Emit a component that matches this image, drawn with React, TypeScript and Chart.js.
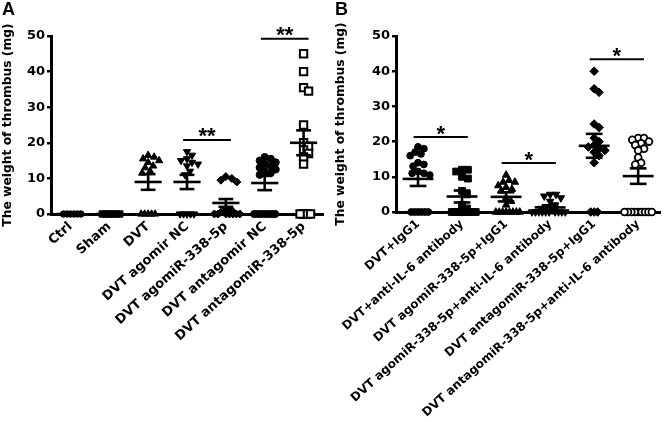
import React, { useEffect, useRef } from 'react';
import { Chart, registerables } from 'chart.js';
Chart.register(...registerables);

const FONT = "'DejaVu Sans', sans-serif";
const STAR_FONT = "bold 22px 'Liberation Sans', Arial, sans-serif";

// ---------- Panel A data ----------
const categoriesA = [
  'Ctrl',
  'Sham',
  'DVT',
  'DVT agomir NC',
  'DVT agomiR-338-5p',
  'DVT antagomir NC',
  'DVT antagomiR-338-5p',
];
const ctrlA = [0, 0, 0, 0, 0, 0];
const shamA = [0, 0, 0, 0, 0, 0];
const dvtA = [16.5, 16, 15.5, 15, 14.5, 13.5, 13, 12, 11.5, 0, 0, 0, 0, 0];
const agomirNcA = [17.5, 16.5, 15.5, 15, 14.5, 14, 13.5, 12, 11, 0, 0, 0, 0, 0];
const agomiRA = [10.5, 10, 9.5, 9, 1.5, 1, 0.5, 0, 0, 0, 0, 0, 0, 0];
const antagomirNcA = [16, 15.5, 15, 14.5, 14, 13.5, 13, 12.5, 12, 11.5, 11, 0, 0, 0, 0, 0, 0, 0];
const antagomiRA = [45, 40, 35.5, 34.5, 25, 20, 19, 18, 17, 16, 14, 0, 0, 0, 0];
const meansA = [0, 0, 9.0, 9.0, 3.1, 8.7, 20.0];
const semsA = [0, 0, 2.2, 2.0, 1.1, 2.0, 3.5];
const sigFromA = [3, 5];
const sigToA = [4, 6];
const sigYA = [20.8, 49.2];
const sigLabelA = ['**', '**'];

// ---------- Panel B data ----------
const categoriesB = [
  'DVT+IgG1',
  'DVT+anti-IL-6 antibody',
  'DVT agomiR-338-5p+IgG1',
  'DVT agomiR-338-5p+anti-IL-6 antibody',
  'DVT antagomiR-338-5p+IgG1',
  'DVT antagomiR-338-5p+anti-IL-6 antibody',
];
const igg1B = [18.5, 18, 17, 16.5, 16, 14, 13.5, 13, 11.5, 11, 11, 10.5, 0, 0, 0, 0, 0, 0];
const antiIl6B = [12, 12, 11.5, 10, 9.5, 6, 5, 2, 1, 0, 0, 0, 0, 0, 0, 0, 0];
const agomiRIgg1B = [10.5, 9, 8.5, 8.5, 7.5, 7, 6.5, 6, 4, 3, 2, 0, 0, 0, 0, 0, 0, 0, 0];
const agomiRIl6B = [5, 5, 4.5, 4, 3, 2, 1.5, 1, 0.5, 0, 0, 0, 0, 0, 0, 0, 0, 0, 0];
const antagomiRIgg1B = [40, 35, 34, 25, 24, 21, 20, 19, 18.5, 18, 17.5, 17, 16, 14, 0, 0, 0];
const antagomiRIl6B = [21, 21, 20.5, 20, 19.5, 19, 18, 17.5, 15.5, 14, 13.5, 0, 0, 0, 0, 0, 0, 0, 0, 0];
const meansB = [9.4, 4.4, 4.3, 1.3, 18.8, 10.2];
const semsB = [2.0, 1.7, 1.3, 0.6, 3.4, 2.2];
const sigFromB = [0, 2, 4];
const sigToB = [1, 3, 5];
const sigYB = [21.3, 13.9, 43.4];
const sigLabelB = ['*', '*', '*'];

const yTicks = [0, 10, 20, 30, 40, 50];

type Style = { shape: string; rot: number; r: number; fill: string; bw: number };
const stylesA: Style[] = [
  { shape: 'circle', rot: 0, r: 3.2, fill: '#000', bw: 1 },
  { shape: 'rect', rot: 0, r: 4.5, fill: '#000', bw: 1 },
  { shape: 'triangle', rot: 0, r: 4.2, fill: '#000', bw: 1 },
  { shape: 'triangle', rot: 180, r: 4.2, fill: '#000', bw: 1 },
  { shape: 'rectRot', rot: 0, r: 4, fill: '#000', bw: 1 },
  { shape: 'circle', rot: 0, r: 3.6, fill: '#000', bw: 1 },
  { shape: 'rect', rot: 0, r: 5.2, fill: '#fff', bw: 2 },
];
const stylesB: Style[] = [
  { shape: 'circle', rot: 0, r: 3.4, fill: '#000', bw: 1 },
  { shape: 'rect', rot: 0, r: 4.8, fill: '#000', bw: 1 },
  { shape: 'triangle', rot: 0, r: 4.3, fill: '#000', bw: 1 },
  { shape: 'triangle', rot: 180, r: 4.3, fill: '#000', bw: 1 },
  { shape: 'rectRot', rot: 0, r: 4.3, fill: '#000', bw: 1 },
  { shape: 'circle', rot: 0, r: 3.4, fill: '#fff', bw: 1.8 },
];

// deterministic beeswarm layout (pixel-space approximation)
function swarmOffsets(values: number[], pxX: number, pxY: number): number[] {
  const order = values.map((_, i) => i).sort((a, b) => values[b] - values[a]);
  const placed: [number, number][] = [];
  const out = new Array(values.length).fill(0);
  for (const i of order) {
    const py = values[i] * pxY;
    const minDist = values[i] === 0 ? 3.3 : 6;
    let chosen = 0;
    for (let k = 0; k < 400; k++) {
      const cand = k === 0 ? 0 : (k % 2 ? 1 : -1) * Math.ceil(k / 2) * 0.5;
      if (placed.every(([x, y]) => (x - cand) ** 2 + (y - py) ** 2 >= minDist * minDist)) {
        chosen = cand;
        break;
      }
    }
    placed.push([chosen, py]);
    out[i] = chosen / pxX;
  }
  return out;
}

type PanelSpec = {
  letter: string;
  categories: string[];
  groups: number[][];
  styles: Style[];
  means: number[];
  sems: number[];
  sigFrom: number[];
  sigTo: number[];
  sigY: number[];
  sigLabel: string[];
  yWidth: number;
  xHeight: number;
  padRight: number;
  pxX: number;
  pxY: number;
  labelSize: number;
};

function buildConfig(p: PanelSpec): any {
  const datasets = p.groups.map((vals, gi) => {
    const offs = swarmOffsets(vals, p.pxX, p.pxY);
    const st = p.styles[gi];
    return {
      label: p.categories[gi],
      data: vals.map((v, j) => ({ x: gi + offs[j], y: v })),
      pointStyle: st.shape,
      rotation: st.rot,
      pointRadius: st.r,
      pointBackgroundColor: st.fill,
      pointBorderColor: '#000',
      pointBorderWidth: st.bw,
      clip: false,
    };
  });

  const overlay = {
    id: 'overlay' + p.letter,
    afterDatasetsDraw(chart: any) {
      const { ctx } = chart;
      const x = chart.scales.x;
      const y = chart.scales.y;
      ctx.save();
      ctx.strokeStyle = '#000';
      ctx.fillStyle = '#000';
      ctx.lineCap = 'butt';
      const hline = (a: number, b: number, v: number, w: number) => {
        ctx.lineWidth = w;
        ctx.beginPath();
        ctx.moveTo(x.getPixelForValue(a), y.getPixelForValue(v));
        ctx.lineTo(x.getPixelForValue(b), y.getPixelForValue(v));
        ctx.stroke();
      };
      p.means.forEach((m, i) => {
        const s = p.sems[i];
        hline(i - 0.35, i + 0.35, m, 2.6);
        if (s > 0) {
          ctx.lineWidth = 2.6;
          ctx.beginPath();
          ctx.moveTo(x.getPixelForValue(i), y.getPixelForValue(m - s));
          ctx.lineTo(x.getPixelForValue(i), y.getPixelForValue(m + s));
          ctx.stroke();
          hline(i - 0.19, i + 0.19, m - s, 2.6);
          hline(i - 0.19, i + 0.19, m + s, 2.6);
        }
      });
      p.sigFrom.forEach((f, k) => {
        const t = p.sigTo[k];
        hline(f - 0.1, t + 0.13, p.sigY[k], 2);
        ctx.font = STAR_FONT;
        ctx.textAlign = 'center';
        ctx.textBaseline = 'alphabetic';
        const cx = (x.getPixelForValue(f - 0.1) + x.getPixelForValue(t + 0.13)) / 2;
        ctx.fillText(p.sigLabel[k], cx, y.getPixelForValue(p.sigY[k]) + 3.5);
      });
      ctx.font = "bold 18px 'Liberation Sans', Arial, sans-serif";
      ctx.textAlign = 'left';
      ctx.textBaseline = 'top';
      ctx.fillText(p.letter, 2, 1);
      ctx.restore();
    },
  };

  return {
    type: 'scatter',
    data: { datasets },
    plugins: [overlay],
    options: {
      animation: false,
      responsive: false,
      events: [],
      layout: { padding: { top: 36, right: p.padRight, left: 0, bottom: 0 } },
      plugins: { legend: { display: false }, tooltip: { enabled: false } },
      scales: {
        x: {
          type: 'linear',
          min: -0.5,
          max: p.categories.length - 0.5,
          afterBuildTicks: (scale: any) => {
            scale.ticks = p.categories.map((_, i) => ({ value: i }));
          },
          afterFit: (scale: any) => {
            scale.height = p.xHeight;
          },
          grid: { display: false, drawTicks: false },
          border: { display: true, color: '#000', width: 3 },
          ticks: {
            autoSkip: false,
            minRotation: 42,
            maxRotation: 42,
            padding: 5,
            color: '#000',
            font: { family: FONT, size: p.labelSize, weight: 'bold' },
            callback: (_v: any, i: number) => p.categories[i],
          },
        },
        y: {
          type: 'linear',
          min: 0,
          max: 50,
          afterBuildTicks: (scale: any) => {
            scale.ticks = yTicks.map((v) => ({ value: v }));
          },
          afterFit: (scale: any) => {
            scale.width = p.yWidth;
          },
          grid: {
            display: true,
            drawOnChartArea: false,
            drawTicks: true,
            tickLength: 4,
            color: '#000',
            lineWidth: 2.5,
          },
          border: { display: true, color: '#000', width: 3 },
          ticks: {
            padding: 2,
            color: '#000',
            font: { family: FONT, size: 13, weight: 'bold' },
          },
          title: {
            display: true,
            text: 'The weight of thrombus (mg)',
            color: '#000',
            padding: { top: 0, bottom: 0 },
            font: { family: FONT, size: 12.3, weight: 'bold' },
          },
        },
      },
    },
  };
}

const panelA: PanelSpec = {
  letter: 'A',
  categories: categoriesA,
  groups: [ctrlA, shamA, dvtA, agomirNcA, agomiRA, antagomirNcA, antagomiRA],
  styles: stylesA,
  means: meansA,
  sems: semsA,
  sigFrom: sigFromA,
  sigTo: sigToA,
  sigY: sigYA,
  sigLabel: sigLabelA,
  yWidth: 51,
  xHeight: 208,
  padRight: 10,
  pxX: 38.9,
  pxY: 3.56,
  labelSize: 13,
};

const panelB: PanelSpec = {
  letter: 'B',
  categories: categoriesB,
  groups: [igg1B, antiIl6B, agomiRIgg1B, agomiRIl6B, antagomiRIgg1B, antagomiRIl6B],
  styles: stylesB,
  means: meansB,
  sems: semsB,
  sigFrom: sigFromB,
  sigTo: sigToB,
  sigY: sigYB,
  sigLabel: sigLabelB,
  yWidth: 63,
  xHeight: 210,
  padRight: 1,
  pxX: 45,
  pxY: 3.52,
  labelSize: 12,
};

function Panel({ spec, left }: { spec: PanelSpec; left: number }) {
  const ref = useRef<HTMLCanvasElement>(null);
  useEffect(() => {
    const chart = new Chart(ref.current as HTMLCanvasElement, buildConfig(spec));
    return () => chart.destroy();
  }, []);
  return (
    <canvas
      ref={ref}
      width={333}
      height={422}
      style={{ position: 'absolute', left, top: 0, width: 333, height: 422 }}
    />
  );
}

export default function App() {
  return (
    <div style={{ position: 'absolute', left: 0, top: 0, width: 666, height: 422, background: '#fff' }}>
      <Panel spec={panelA} left={0} />
      <Panel spec={panelB} left={333} />
    </div>
  );
}
